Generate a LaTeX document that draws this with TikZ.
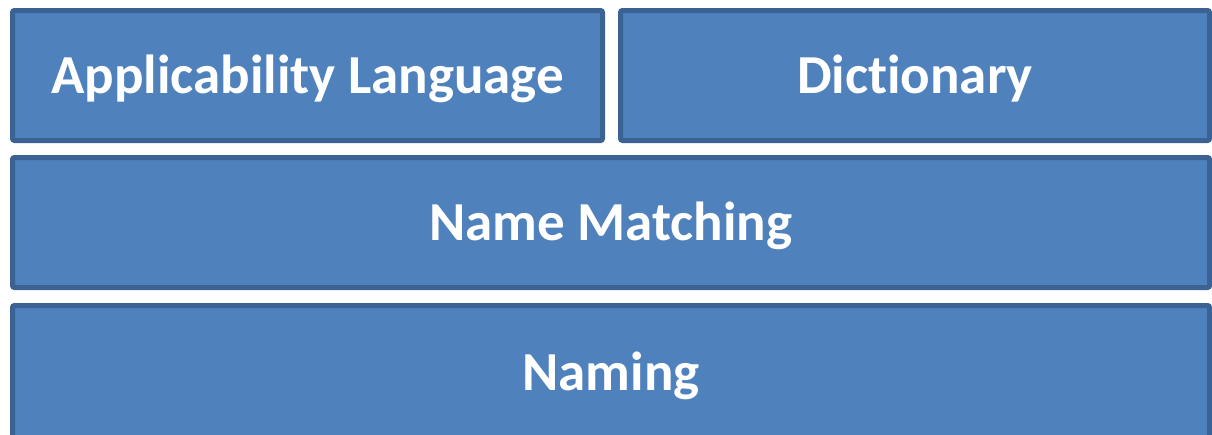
\documentclass[tikz,border=0pt]{standalone}
\usepackage{fontspec}
\setmainfont[Ligatures=NoCommon]{Carlito}
\definecolor{layerfill}{HTML}{4F81BD}
\definecolor{layeredge}{HTML}{3C6293}
\begin{document}
\begin{tikzpicture}[x=1pt,y=-1pt,
  layer/.style={draw=layeredge, fill=layerfill, line width=5pt, rounded corners=2pt,
    inner sep=0pt, text=white, text height=35pt, text depth=0pt,
    font=\fontsize{55}{60}\selectfont\bfseries}]
\useasboundingbox (0,0) rectangle (1212,434);
\clip (0,0) rectangle (1212,434);
\node[layer, minimum width=590pt, minimum height=130pt] (applang) at (307.5,75.5) {Applicability Language};
\node[layer, minimum width=589pt, minimum height=130pt] (dict) at (915,75.5) {Dictionary};
\node[layer, minimum width=1197pt, minimum height=130pt] (match) at (611,222.5) {Name Matching};
\node[layer, minimum width=1197pt, minimum height=135pt] (naming) at (611,373) {Naming};
\end{tikzpicture}
\end{document}
